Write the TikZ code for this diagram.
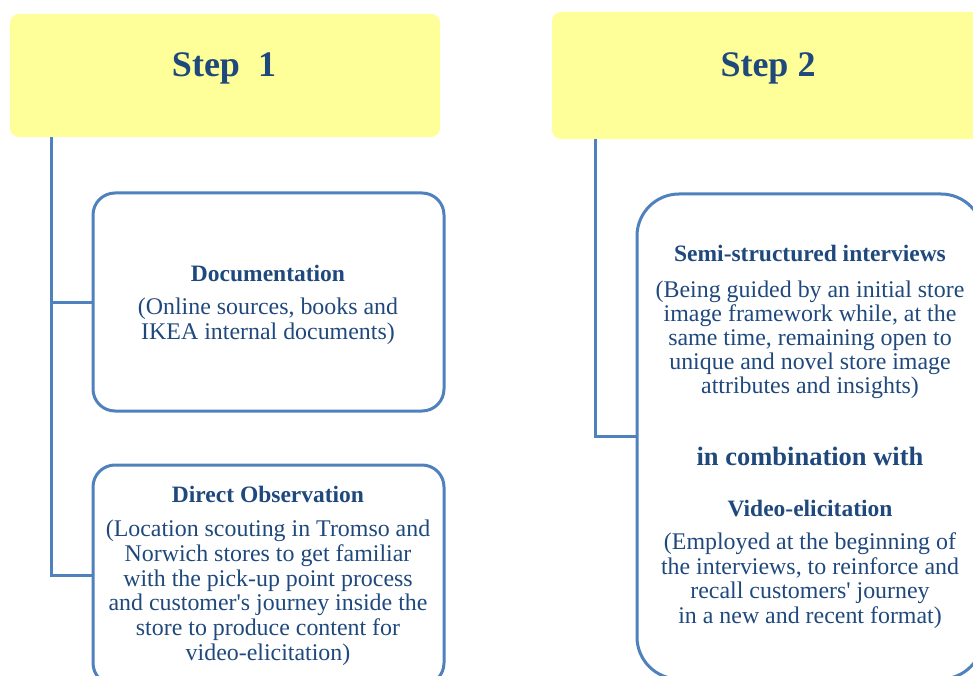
\documentclass[tikz,border=0pt]{standalone}
\usepackage{fontspec}
\setmainfont{Liberation Serif}
\definecolor{linec}{HTML}{4F81BD}
\definecolor{txtc}{HTML}{1F497D}
\definecolor{hdr}{HTML}{FFFF99}
\begin{document}
\begin{tikzpicture}[x=1pt,y=-1pt,
  hdrbox/.style={fill=hdr, draw=none, rounded corners=9pt, inner sep=0pt, outer sep=0pt},
  itembox/.style={draw=linec, line width=3pt, fill=white, inner sep=0pt, outer sep=0pt},
  conn/.style={draw=linec, line width=3pt},
  hdrtext/.style={font=\fontsize{36}{40}\selectfont\bfseries, text=txtc, anchor=base, inner sep=0pt},
  ttl/.style={font=\fontsize{23.5}{25}\selectfont\bfseries, text=txtc, anchor=base, inner sep=0pt},
  bigttl/.style={font=\fontsize{26.5}{28}\selectfont\bfseries, text=txtc, anchor=base, inner sep=0pt},
  body/.style={font=\fontsize{23.9}{25}\selectfont, text=txtc, anchor=base, inner sep=0pt}]
\useasboundingbox (0,0) rectangle (973,676);
\clip (0,0) rectangle (973,676);

% header boxes
\node[hdrbox, minimum width=430pt, minimum height=123pt] (step1) at (225,75.5) {};
\node[hdrbox, minimum width=432pt, minimum height=127pt] (step2) at (768,75.5) {};
\node[hdrtext] (step1t) at (224,77) {Step\ \ 1};
\node[hdrtext] (step2t) at (768,77) {Step 2};

% item boxes
\node[itembox, rounded corners=22pt, minimum width=351pt, minimum height=218pt] (docbox) at (268.5,302) {};
\node[itembox, rounded corners=22pt, minimum width=351pt, minimum height=220pt] (obsbox) at (268.5,575) {};
\node[itembox, rounded corners=42pt, minimum width=346pt, minimum height=485pt] (semibox) at (810,436.5) {};

% connectors
\coordinate (t1) at (51,575);
\draw[conn] (step1.south -| t1) -- (t1) -- (obsbox.west);
\draw[conn] (docbox.west) -- (docbox.west -| t1);
\coordinate (t2) at (595,436.5);
\draw[conn] (step2.south -| t2) -- (t2) -- (semibox.west);

% Documentation
\node[ttl] (d0) at (268,281) {Documentation};
\node[body] (d1) at (268,314) {(Online sources, books and};
\node[body] (d2) at (268,339) {IKEA internal documents)};

% Direct Observation
\node[ttl] (o0) at (268,502) {Direct Observation};
\node[body] (o1) at (268,536) {(Location scouting in Tromso and};
\node[body] (o2) at (268,561) {Norwich stores to get familiar};
\node[body] (o3) at (268,586) {with the pick-up point process};
\node[body] (o4) at (268,610) {and customer\textquotesingle s journey inside the};
\node[body] (o5) at (268,635) {store to produce content for};
\node[body] (o6) at (268,660) {video-elicitation)};

% Semi-structured interviews
\node[ttl] (s0) at (810,261) {Semi-structured interviews};
\node[body] (s1) at (810,297) {(Being guided by an initial store};
\node[body] (s2) at (810,321) {image framework while, at the};
\node[body] (s3) at (810,345) {same time, remaining open to};
\node[body] (s4) at (810,369) {unique and novel store image};
\node[body] (s5) at (810,393) {attributes and insights)};
\node[bigttl] (c0) at (810,465) {in combination with};
\node[ttl] (v0) at (810,516) {Video-elicitation};
\node[body] (v1) at (810,549) {(Employed at the beginning of};
\node[body] (v2) at (810,574) {the interviews, to reinforce and};
\node[body] (v3) at (810,598) {recall customers\textquotesingle\ journey};
\node[body] (v4) at (810,623) {in a new and recent format)};
\end{tikzpicture}
\end{document}
